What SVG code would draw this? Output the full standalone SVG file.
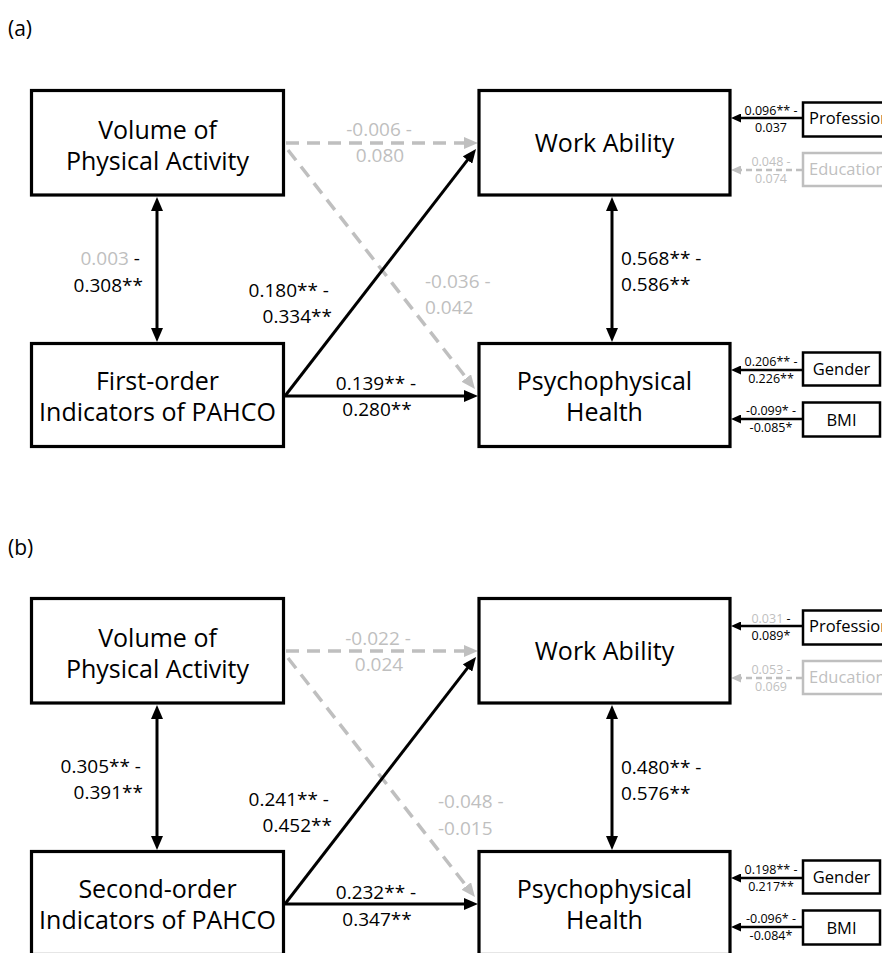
<svg xmlns="http://www.w3.org/2000/svg" width="882" height="953" viewBox="0 0 882 953">
<style>
text { font-family: "Open Sans", "Noto Sans", "DejaVu Sans", sans-serif; fill: #000; }
.title { font-size: 21px; }
.box { fill: #fff; stroke: #000; stroke-width: 3.2; }
.boxg { fill: #fff; stroke: #bfbfbf; stroke-width: 3; }
.bt { font-size: 25px; text-anchor: middle; }
.lbl { font-size: 19px; }
.sm { font-size: 12.5px; text-anchor: middle; }
.cv { font-size: 16.5px; }
.g { fill: #bfbfbf; }
.solid { stroke: #000; stroke-width: 3; fill: none; }
.dash { stroke: #bfbfbf; stroke-width: 3.5; fill: none; stroke-dasharray: 13 8; }
.ssolid { stroke: #000; stroke-width: 2.5; fill: none; }
.sdash { stroke: #bfbfbf; stroke-width: 2.5; fill: none; stroke-dasharray: 6 4; }
</style>
<defs>
<marker id="ah" markerUnits="userSpaceOnUse" markerWidth="14" markerHeight="12" refX="5" refY="6" orient="auto-start-reverse"><path d="M0,0 L14,6 L0,12 z" fill="#000"/></marker>
<marker id="ahg" markerUnits="userSpaceOnUse" markerWidth="14" markerHeight="12" refX="5" refY="6" orient="auto-start-reverse"><path d="M0,0 L14,6 L0,12 z" fill="#bfbfbf"/></marker>
<marker id="sah" markerUnits="userSpaceOnUse" markerWidth="10" markerHeight="9" refX="3" refY="4.5" orient="auto-start-reverse"><path d="M0,0 L10,4.5 L0,9 z" fill="#000"/></marker>
<marker id="sahg" markerUnits="userSpaceOnUse" markerWidth="10" markerHeight="9" refX="3" refY="4.5" orient="auto-start-reverse"><path d="M0,0 L10,4.5 L0,9 z" fill="#bfbfbf"/></marker>
</defs>
<rect x="0" y="0" width="882" height="953" fill="#fff"/>

<!-- Panel (a) -->
<g id="panel-a">
<text class="title" x="8" y="36">(a)</text>
<g id="connectors-a">
<line class="dash" x1="286" y1="143" x2="469" y2="143" marker-end="url(#ahg)"/>
<line class="dash" x1="288" y1="150" x2="469.4" y2="381.9" marker-end="url(#ahg)"/>
<line class="solid" x1="285" y1="396" x2="470.5" y2="156.1" marker-end="url(#ah)"/>
<line class="solid" x1="285" y1="396" x2="469" y2="396" marker-end="url(#ah)"/>
<line class="solid" x1="157" y1="206" x2="157" y2="333" marker-start="url(#ah)" marker-end="url(#ah)"/>
<line class="solid" x1="612" y1="206" x2="612" y2="333" marker-start="url(#ah)" marker-end="url(#ah)"/>
<line class="ssolid" x1="802" y1="118" x2="738" y2="118" marker-end="url(#sah)"/>
<line class="sdash" x1="802" y1="170" x2="738" y2="170" marker-end="url(#sahg)"/>
<line class="ssolid" x1="802" y1="370" x2="738" y2="370" marker-end="url(#sah)"/>
<line class="ssolid" x1="802" y1="419" x2="738" y2="419" marker-end="url(#sah)"/>
<text class="lbl g" x="379" y="136" text-anchor="middle">-0.006 -</text>
<text class="lbl g" x="380" y="162" text-anchor="middle">0.080</text>
<text class="lbl" x="140" y="265" text-anchor="end"><tspan class="g">0.003</tspan> -</text>
<text class="lbl" x="143" y="292" text-anchor="end">0.308**</text>
<text class="lbl" x="329" y="297" text-anchor="end">0.180** -</text>
<text class="lbl" x="332" y="323" text-anchor="end">0.334**</text>
<text class="lbl g" x="425" y="288">-0.036 -</text>
<text class="lbl g" x="425" y="314">0.042</text>
<text class="lbl" x="376" y="390" text-anchor="middle">0.139** -</text>
<text class="lbl" x="377" y="416" text-anchor="middle">0.280**</text>
<text class="lbl" x="621" y="265">0.568** -</text>
<text class="lbl" x="621" y="291">0.586**</text>
<text class="sm" x="771" y="114.5">0.096** -</text>
<text class="sm" x="771" y="131.5">0.037</text>
<text class="sm g" x="771" y="165.5">0.048 -</text>
<text class="sm g" x="771" y="182.5">0.074</text>
<text class="sm" x="771" y="365.5">0.206** -</text>
<text class="sm" x="771" y="382.5">0.226**</text>
<text class="sm" x="771" y="414.5">-0.099* -</text>
<text class="sm" x="771" y="431.5">-0.085*</text>
</g>
<g id="a-volume">
<rect class="box" x="31.5" y="90.5" width="252" height="104.5"/>
<text class="bt" x="157.5" y="139">Volume of</text>
<text class="bt" x="157.5" y="170">Physical Activity</text>
</g>
<g id="a-first-order">
<rect class="box" x="31.5" y="343.5" width="252" height="103"/>
<text class="bt" x="157.5" y="390">First-order</text>
<text class="bt" x="157.5" y="421">Indicators of PAHCO</text>
</g>
<g id="a-work-ability">
<rect class="box" x="479" y="90.5" width="251" height="104.5"/>
<text class="bt" x="604.5" y="152">Work Ability</text>
</g>
<g id="a-psych">
<rect class="box" x="479" y="343.5" width="251" height="103"/>
<text class="bt" x="604.5" y="390">Psychophysical</text>
<text class="bt" x="604.5" y="421">Health</text>
</g>
<g id="a-profession">
<rect class="box" x="803" y="102.5" width="100" height="34" style="stroke-width:2.5"/>
<text class="cv" x="809" y="124">Profession</text>
</g>
<g id="a-education">
<rect class="boxg" x="803" y="153" width="100" height="33" style="stroke-width:2.5"/>
<text class="cv g" x="809" y="175">Education</text>
</g>
<g id="a-gender">
<rect class="box" x="803" y="352.5" width="77" height="33" style="stroke-width:2.5"/>
<text class="cv" x="841.5" y="375" text-anchor="middle">Gender</text>
</g>
<g id="a-bmi">
<rect class="box" x="803" y="402.5" width="77" height="34" style="stroke-width:2.5"/>
<text class="cv" x="841.5" y="426" text-anchor="middle">BMI</text>
</g>
</g>

<!-- Panel (b) -->
<g id="panel-b">
<text class="title" x="8" y="555">(b)</text>
<g transform="translate(0,508)">
<g id="connectors-b">
<line class="dash" x1="286" y1="143" x2="469" y2="143" marker-end="url(#ahg)"/>
<line class="dash" x1="288" y1="150" x2="469.4" y2="381.9" marker-end="url(#ahg)"/>
<line class="solid" x1="285" y1="396" x2="470.5" y2="156.1" marker-end="url(#ah)"/>
<line class="solid" x1="285" y1="396" x2="469" y2="396" marker-end="url(#ah)"/>
<line class="solid" x1="157" y1="206" x2="157" y2="333" marker-start="url(#ah)" marker-end="url(#ah)"/>
<line class="solid" x1="612" y1="206" x2="612" y2="333" marker-start="url(#ah)" marker-end="url(#ah)"/>
<line class="ssolid" x1="802" y1="118" x2="738" y2="118" marker-end="url(#sah)"/>
<line class="sdash" x1="802" y1="170" x2="738" y2="170" marker-end="url(#sahg)"/>
<line class="ssolid" x1="802" y1="370" x2="738" y2="370" marker-end="url(#sah)"/>
<line class="ssolid" x1="802" y1="419" x2="738" y2="419" marker-end="url(#sah)"/>
<text class="lbl g" x="378" y="137" text-anchor="middle">-0.022 -</text>
<text class="lbl g" x="379" y="163" text-anchor="middle">0.024</text>
<text class="lbl" x="141" y="265" text-anchor="end">0.305** -</text>
<text class="lbl" x="143" y="291" text-anchor="end">0.391**</text>
<text class="lbl" x="329" y="298" text-anchor="end">0.241** -</text>
<text class="lbl" x="332" y="324" text-anchor="end">0.452**</text>
<text class="lbl g" x="438" y="300">-0.048 -</text>
<text class="lbl g" x="438" y="327">-0.015</text>
<text class="lbl" x="376" y="391" text-anchor="middle">0.232** -</text>
<text class="lbl" x="377" y="418" text-anchor="middle">0.347**</text>
<text class="lbl" x="621" y="266">0.480** -</text>
<text class="lbl" x="621" y="292">0.576**</text>
<text class="sm" x="771" y="114.5"><tspan class="g">0.031</tspan> -</text>
<text class="sm" x="771" y="131.5">0.089*</text>
<text class="sm g" x="771" y="165.5">0.053 -</text>
<text class="sm g" x="771" y="182.5">0.069</text>
<text class="sm" x="771" y="365.5">0.198** -</text>
<text class="sm" x="771" y="382.5">0.217**</text>
<text class="sm" x="771" y="414.5">-0.096* -</text>
<text class="sm" x="771" y="431.5">-0.084*</text>
</g>
<g id="b-volume">
<rect class="box" x="31.5" y="90.5" width="252" height="104.5"/>
<text class="bt" x="157.5" y="139">Volume of</text>
<text class="bt" x="157.5" y="170">Physical Activity</text>
</g>
<g id="b-second-order">
<rect class="box" x="31.5" y="343.5" width="252" height="103"/>
<text class="bt" x="157.5" y="390">Second-order</text>
<text class="bt" x="157.5" y="421">Indicators of PAHCO</text>
</g>
<g id="b-work-ability">
<rect class="box" x="479" y="90.5" width="251" height="104.5"/>
<text class="bt" x="604.5" y="152">Work Ability</text>
</g>
<g id="b-psych">
<rect class="box" x="479" y="343.5" width="251" height="103"/>
<text class="bt" x="604.5" y="390">Psychophysical</text>
<text class="bt" x="604.5" y="421">Health</text>
</g>
<g id="b-profession">
<rect class="box" x="803" y="102.5" width="100" height="34" style="stroke-width:2.5"/>
<text class="cv" x="809" y="124">Profession</text>
</g>
<g id="b-education">
<rect class="boxg" x="803" y="153" width="100" height="33" style="stroke-width:2.5"/>
<text class="cv g" x="809" y="175">Education</text>
</g>
<g id="b-gender">
<rect class="box" x="803" y="352.5" width="77" height="33" style="stroke-width:2.5"/>
<text class="cv" x="841.5" y="375" text-anchor="middle">Gender</text>
</g>
<g id="b-bmi">
<rect class="box" x="803" y="402.5" width="77" height="34" style="stroke-width:2.5"/>
<text class="cv" x="841.5" y="426" text-anchor="middle">BMI</text>
</g>
</g>
</g>
</svg>
